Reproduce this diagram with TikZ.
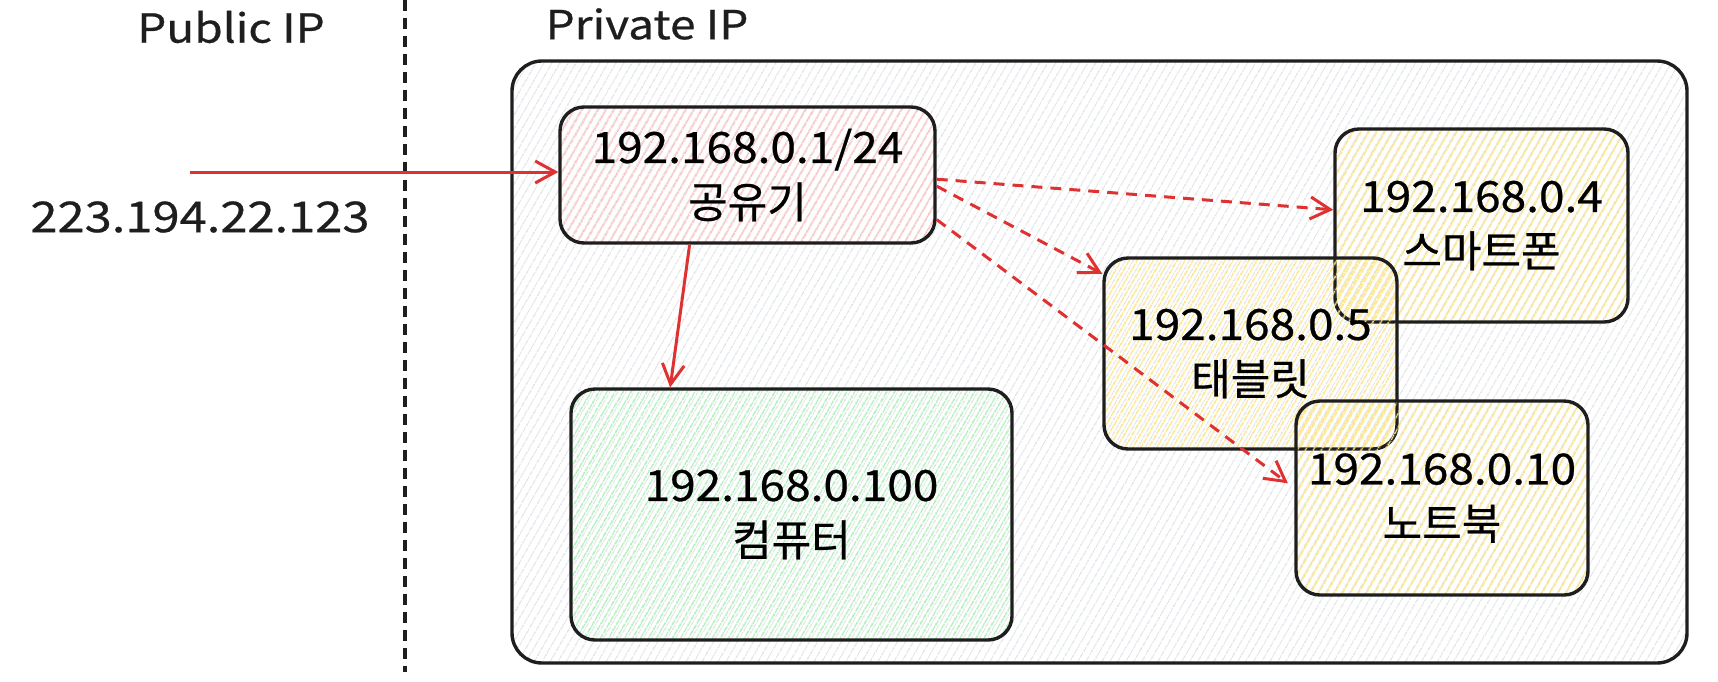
\documentclass[tikz,border=0pt]{standalone}
\usepackage{fontspec}
\setmainfont{Noto Sans CJK KR}[FakeBold=0.6]
\newfontfamily\latinf{Noto Sans CJK KR}[FakeBold=0.6,FakeStretch=1.15]
\newfontfamily\boxlatinf{Noto Sans CJK KR}[FakeBold=0.6,FakeStretch=1.07]
\usetikzlibrary{arrows.meta,patterns.meta,calc}
\definecolor{strokec}{HTML}{1E1E1E}
\definecolor{redc}{HTML}{E03131}
\definecolor{grayh}{HTML}{DEE2E6}
\definecolor{redh}{HTML}{FFC0C0}
\definecolor{greenh}{HTML}{A8EFB2}
\definecolor{yellowh}{HTML}{FFE27A}
\begin{document}
\begin{tikzpicture}[x=1pt,y=-1pt,
  hatch/.style={pattern={Lines[angle=60,distance=6.5pt,line width=1.6pt]}, pattern color=#1},
  box/.style={draw=strokec, line width=3.4pt, rounded corners=24pt, align=center,
    font=\fontsize{43}{55}\selectfont, inner sep=0pt, hatch=#1},
  lbl/.style={font=\fontsize{40}{46}\selectfont\latinf, inner sep=0pt, text=strokec},
  link/.style={draw=redc, line width=3pt, -{Straight Barb[length=20pt,width=22pt,line width=3pt]}},
  dlink/.style={link, dash pattern=on 11pt off 8pt}
]
\useasboundingbox (0,0) rectangle (1718,681);

% container
\node[box=grayh, rounded corners=30pt, minimum width=1175pt, minimum height=602pt,
  pattern={Lines[angle=60,distance=6.5pt,line width=1.2pt]}] (lan) at (1099.5,362) {};

% devices
\node[box=redh, minimum width=375pt, minimum height=136pt] (router) at (747.5,175) {{\boxlatinf 192.168.0.1/24}\\공유기};
\node[box=greenh, minimum width=441pt, minimum height=251pt] (pc) at (791.5,514.5) {{\boxlatinf 192.168.0.100}\\컴퓨터};
\node[box=yellowh, minimum width=293pt, minimum height=193pt] (phone) at (1481.5,225.5) {{\boxlatinf 192.168.0.4}\\스마트폰};
\node[box=yellowh, minimum width=293pt, minimum height=191pt] (tablet) at (1250.5,353.5) {{\boxlatinf 192.168.0.5}\\태블릿};
\node[box=yellowh, minimum width=292pt, minimum height=194pt] (laptop) at (1442,498) {{\boxlatinf 192.168.0.10}\\노트북};

% labels
\node[lbl] (pub) at (231,27) {Public IP};
\node[lbl] (priv) at (647,24) {Private IP};
\node[lbl, font=\fontsize{42.5}{50}\selectfont\latinf] (wan) at (200,217) {223.194.22.123};

% divider
\coordinate (divtop) at (405,0);
\coordinate (divbot) at (405,672);
\draw[strokec, line width=4.5pt, dash pattern=on 11pt off 7pt] (divtop) -- (divbot);

% arrows
\coordinate (inet) at (190,172);
\draw[link] (inet) -- (inet -| router.west);
\draw[link] ($(router.south west)!0.347!(router.south east)$) -- ($(pc.north west)!0.227!(pc.north east)$);
\draw[dlink] ($(router.north east)!0.53!(router.south east)$) -- ($(phone.north west)!0.42!(phone.south west)$);
\draw[dlink] ($(router.north east)!0.58!(router.south east)$) -- ($(tablet.north west)!0.09!(tablet.south west)$);
\draw[dlink, shorten >=8pt] ($(router.north east)!0.82!(router.south east)$) -- ($(laptop.north west)!0.45!(laptop.south west)$);
\end{tikzpicture}
\end{document}
